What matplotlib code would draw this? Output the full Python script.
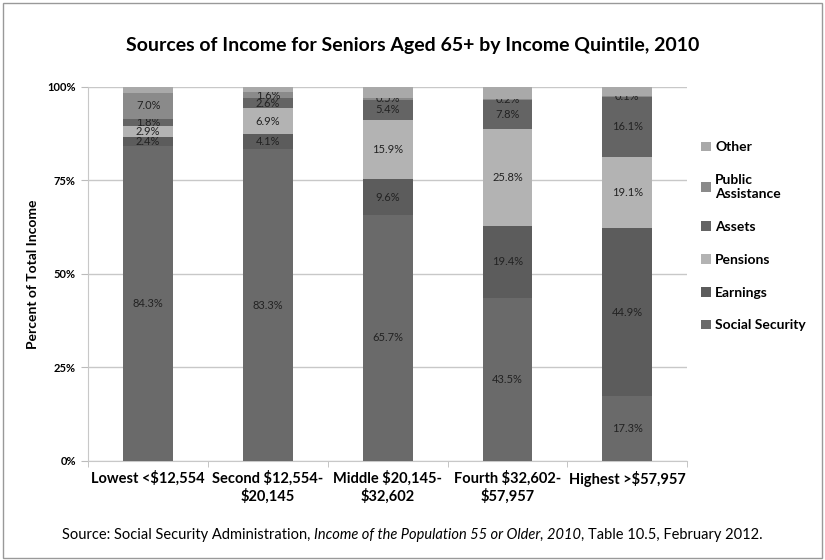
import numpy as np
import matplotlib.pyplot as plt
from matplotlib.patches import Rectangle

plt.rcParams['font.family'] = ['Lato', 'DejaVu Sans']

# 数据
quintiles = ['Lowest <$12,554', 'Second $12,554-\n$20,145', 'Middle $20,145-\n$32,602',
             'Fourth $32,602-\n$57,957', 'Highest >$57,957']
sources = ['Social Security', 'Earnings', 'Pensions', 'Assets', 'Public\nAssistance', 'Other']
social_security = [84.3, 83.3, 65.7, 43.5, 17.3]
earnings = [2.4, 4.1, 9.6, 19.4, 44.9]
pensions = [2.9, 6.9, 15.9, 25.8, 19.1]
assets = [1.8, 2.6, 5.4, 7.8, 16.1]
public_assistance = [7.0, 1.6, 0.5, 0.2, 0.1]
other = [1.6, 1.5, 2.9, 3.3, 2.5]
yticks = [0, 25, 50, 75, 100]

series = [social_security, earnings, pensions, assets, public_assistance, other]
colors = ['#6a6a6a', '#5c5c5c', '#b3b3b3', '#646464', '#8a8a8a', '#a9a9a9']
show_label = [True, True, True, True, True, False]

fig = plt.figure(figsize=(8.25, 5.6), dpi=100)
ax = fig.add_axes([0.107, 0.177, 0.726, 0.668])

x = np.arange(len(quintiles))
bottom = np.zeros(len(quintiles))
for vals, name, c, lab in zip(series, sources, colors, show_label):
    bars = ax.bar(x, vals, 0.415, bottom=bottom, color=c, label=name, zorder=3)
    if lab:
        ax.bar_label(bars, labels=['%.1f%%' % v for v in vals], label_type='center',
                     fontsize=8, color='#222222')
    bottom += np.array(vals)

ax.set_xlim(-0.5, len(quintiles) - 0.5)
ax.set_ylim(0, 100)
ax.set_yticks(yticks)
ax.set_yticklabels(['%d%%' % t for t in yticks], fontsize=8, fontweight='bold')
ax.set_xticks(x)
ax.set_xticklabels(quintiles, fontsize=10.5, fontweight='bold')
ax.set_xticks(np.arange(len(quintiles) + 1) - 0.5, minor=True)
ax.tick_params(axis='x', which='major', length=0, pad=7)
ax.tick_params(axis='x', which='minor', length=4, color='#bbbbbb')
ax.tick_params(axis='y', length=5, color='#bbbbbb', pad=4)
ax.yaxis.grid(True, color='#c8c8c8', linewidth=1, zorder=0)
for s in ['top', 'right']:
    ax.spines[s].set_visible(False)
ax.spines['left'].set_color('#c8c8c8')
ax.spines['bottom'].set_color('#c8c8c8')
ax.set_ylabel('Percent of Total Income', fontsize=10, fontweight='bold', labelpad=6)

handles, labels = ax.get_legend_handles_labels()
fig.legend(handles[::-1], labels[::-1], loc='upper left', bbox_to_anchor=(0.835, 0.77),
           frameon=False, prop={'weight': 'bold', 'size': 10},
           handlelength=0.7, handleheight=0.7, handletextpad=0.3, labelspacing=1.5)

fig.text(0.5, 0.918, 'Sources of Income for Seniors Aged 65+ by Income Quintile, 2010',
         ha='center', va='center', fontsize=14, fontweight='bold')

# 来源说明 (部分斜体)
parts = [('Source: Social Security Administration, ', 'normal'),
         ('Income of the Population 55 or Older, 2010', 'italic'),
         (', Table 10.5, February 2012.', 'normal')]
fig.canvas.draw()
r = fig.canvas.get_renderer()
texts = [fig.text(0, 0.045, p, fontsize=10.5, style=st, va='center') for p, st in parts]
widths = [t.get_window_extent(r).width for t in texts]
xpos = (fig.bbox.width - sum(widths)) / 2
for t, w in zip(texts, widths):
    t.set_x(xpos / fig.bbox.width)
    xpos += w

fig.patches.append(Rectangle((0.004, 0.004), 0.992, 0.99, transform=fig.transFigure,
                             fill=False, edgecolor='#999999', linewidth=1))

fig.savefig('out.png', dpi=100)
